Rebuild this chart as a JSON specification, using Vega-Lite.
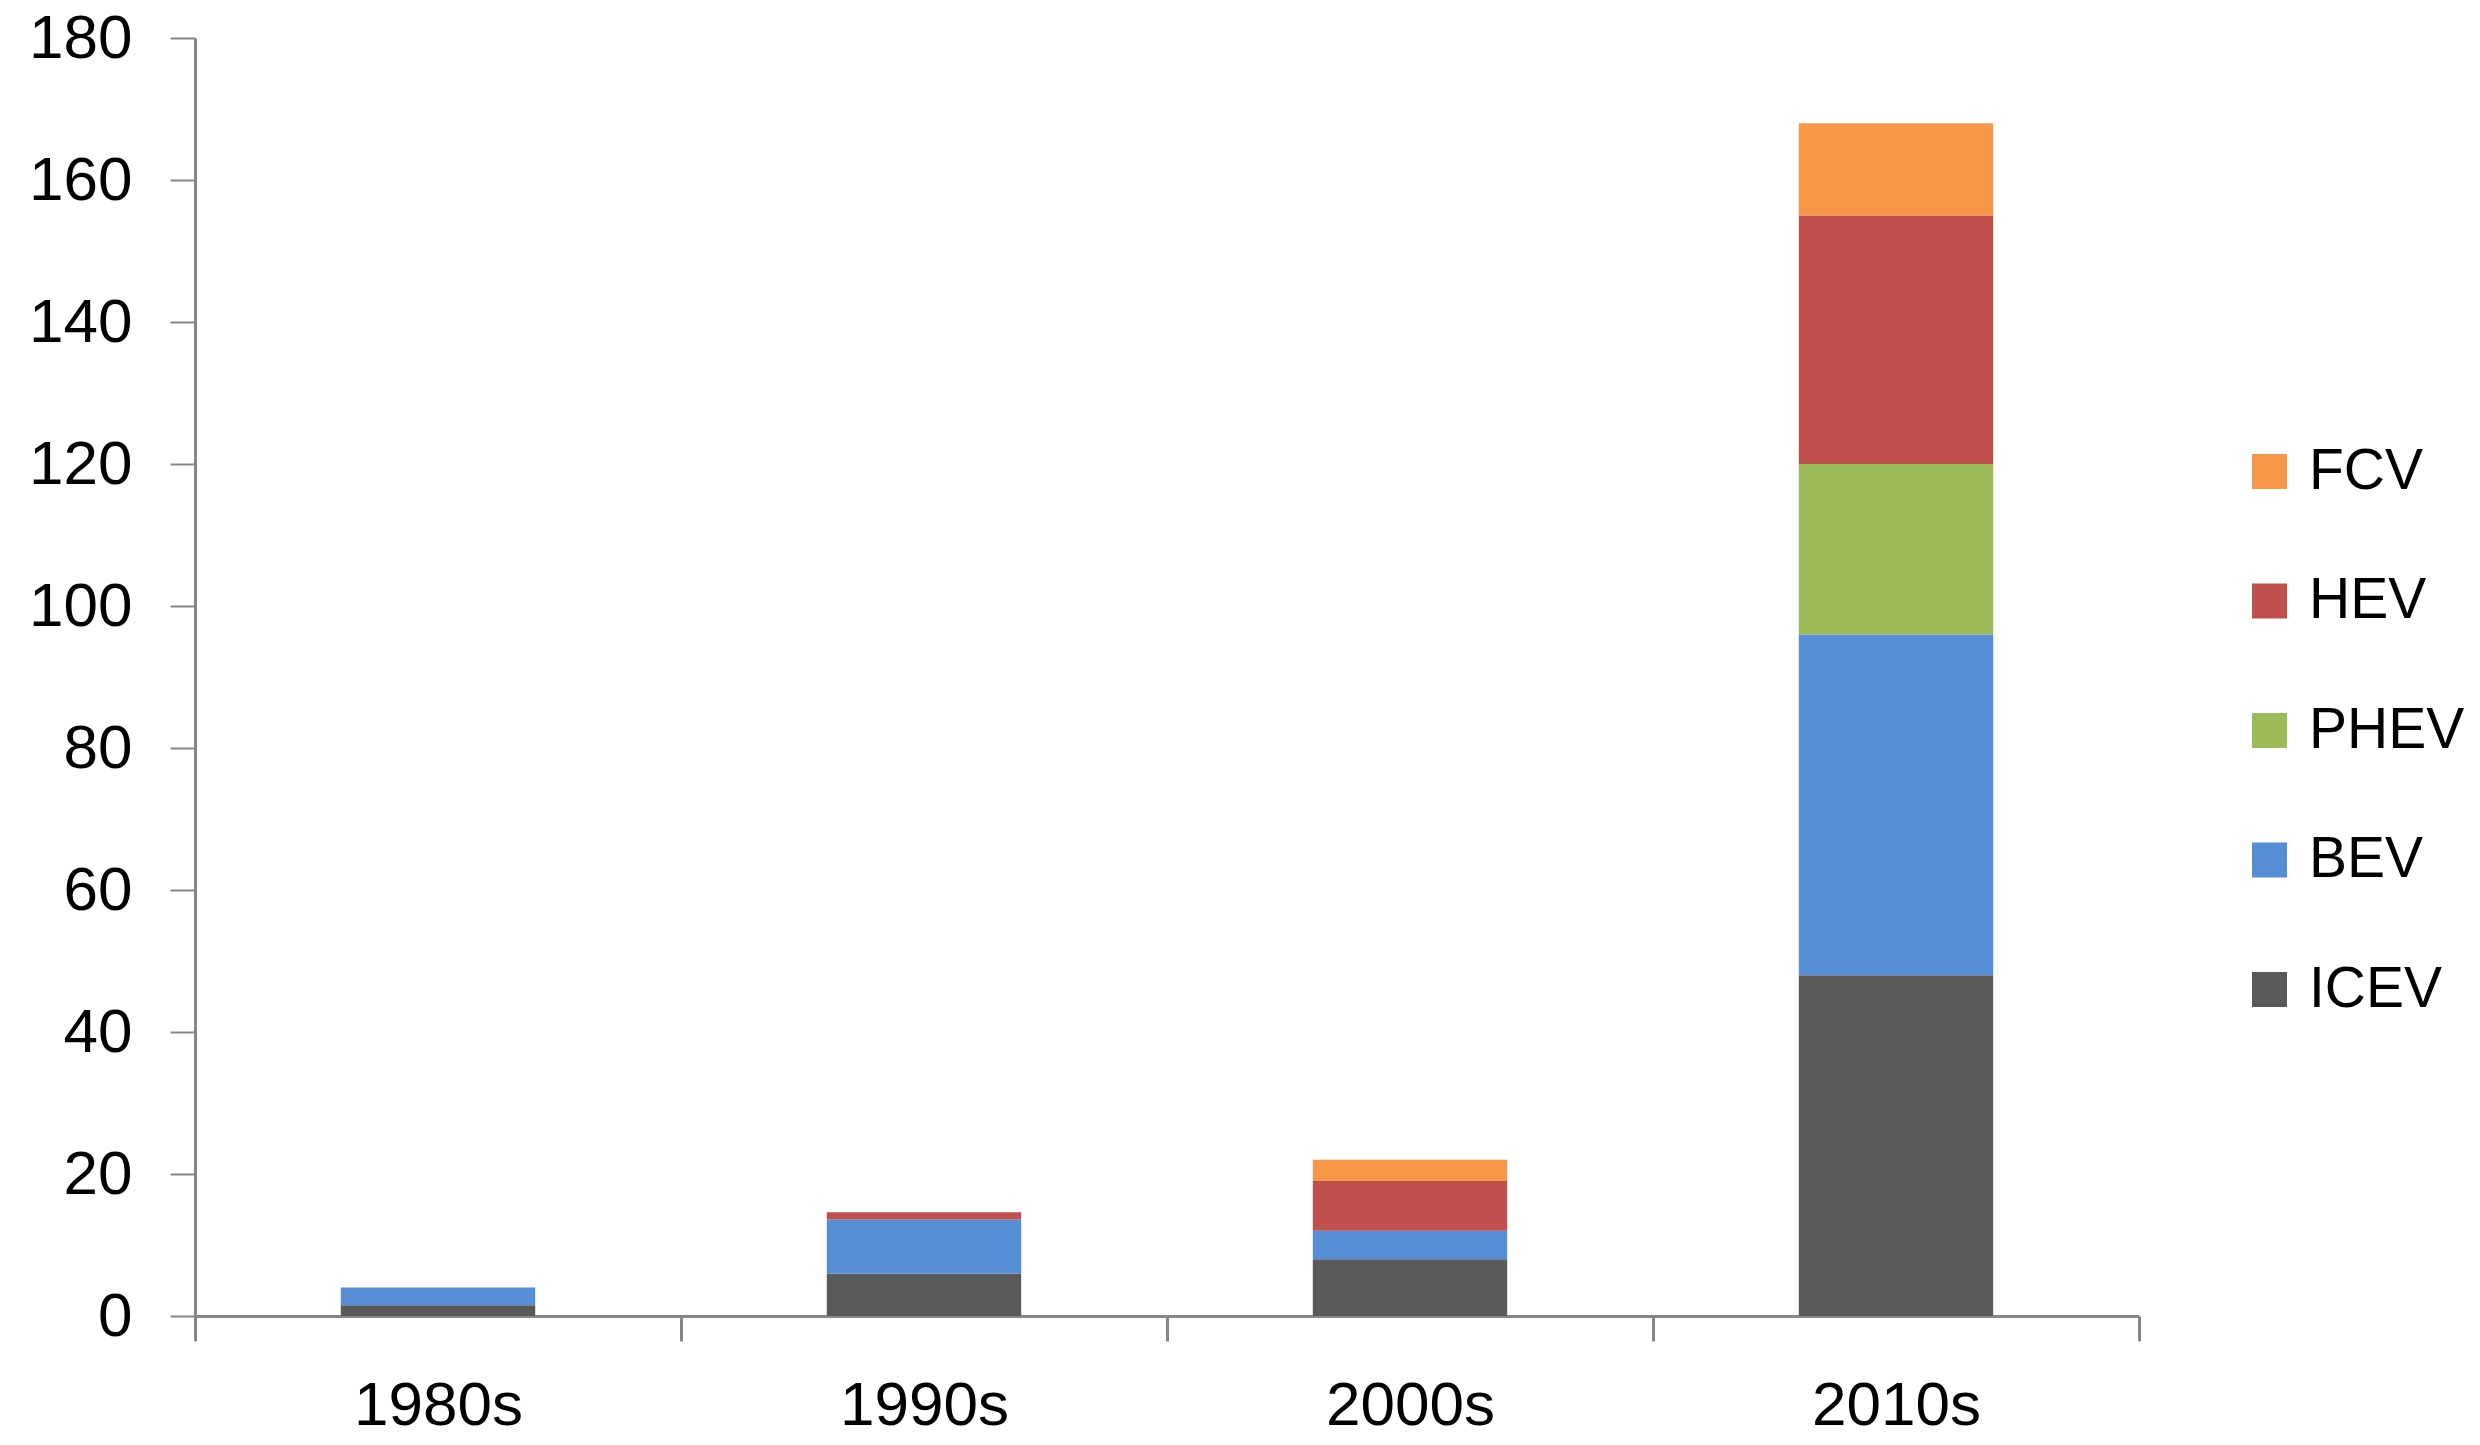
{
  "$schema": "https://vega.github.io/schema/vega-lite/v6.json",
  "autosize": "none",
  "width": 1944,
  "height": 1278,
  "padding": {"left": 195, "top": 38, "right": 341, "bottom": 129},
  "background": "white",
  "data": {
    "values": [
      {"decade": "1980s", "type": "ICEV", "value": 1.5},
      {"decade": "1980s", "type": "BEV", "value": 2.5},
      {"decade": "1990s", "type": "ICEV", "value": 6},
      {"decade": "1990s", "type": "BEV", "value": 7.6},
      {"decade": "1990s", "type": "HEV", "value": 1},
      {"decade": "2000s", "type": "ICEV", "value": 8},
      {"decade": "2000s", "type": "BEV", "value": 4},
      {"decade": "2000s", "type": "HEV", "value": 7},
      {"decade": "2000s", "type": "FCV", "value": 3},
      {"decade": "2010s", "type": "ICEV", "value": 48},
      {"decade": "2010s", "type": "BEV", "value": 48},
      {"decade": "2010s", "type": "PHEV", "value": 24},
      {"decade": "2010s", "type": "HEV", "value": 35},
      {"decade": "2010s", "type": "FCV", "value": 13}
    ]
  },
  "transform": [
    {"calculate": "indexof(['ICEV','BEV','PHEV','HEV','FCV'], datum.type)", "as": "stackOrder"}
  ],
  "mark": {"type": "bar", "width": {"band": 0.4}},
  "encoding": {
    "x": {
      "field": "decade",
      "type": "nominal",
      "sort": ["1980s", "1990s", "2000s", "2010s"],
      "scale": {"paddingInner": 0, "paddingOuter": 0},
      "axis": {
        "title": null,
        "labelAngle": 0,
        "tickBand": "extent",
        "domainColor": "#868686",
        "domainWidth": 3,
        "tickColor": "#868686",
        "tickWidth": 3,
        "tickSize": 25,
        "labelFont": "Liberation Sans",
        "labelFontSize": 62,
        "labelColor": "#000000",
        "labelPadding": 34
      }
    },
    "y": {
      "field": "value",
      "type": "quantitative",
      "stack": "zero",
      "scale": {"domain": [0, 180], "nice": false},
      "axis": {
        "title": null,
        "values": [0, 20, 40, 60, 80, 100, 120, 140, 160, 180],
        "grid": false,
        "domainColor": "#868686",
        "domainWidth": 3,
        "tickColor": "#868686",
        "tickWidth": 2,
        "tickSize": 25,
        "labelFont": "Liberation Sans",
        "labelFontSize": 62,
        "labelColor": "#000000",
        "labelPadding": 38
      }
    },
    "order": {"field": "stackOrder", "type": "quantitative", "sort": "ascending"},
    "color": {
      "field": "type",
      "type": "nominal",
      "scale": {
        "domain": ["ICEV", "BEV", "PHEV", "HEV", "FCV"],
        "range": ["#595959", "#558ED5", "#9BBB59", "#C0504D", "#F79646"]
      },
      "legend": {
        "title": null,
        "values": ["FCV", "HEV", "PHEV", "BEV", "ICEV"],
        "orient": "none",
        "legendX": 2046,
        "legendY": 405,
        "symbolType": "square",
        "symbolSize": 1225,
        "symbolStrokeWidth": 0,
        "labelFont": "Liberation Sans",
        "labelFontSize": 57,
        "labelColor": "#000000",
        "labelOffset": 11,
        "labelLimit": 400,
        "rowPadding": 71.5
      }
    }
  },
  "config": {"view": {"stroke": null}}
}
